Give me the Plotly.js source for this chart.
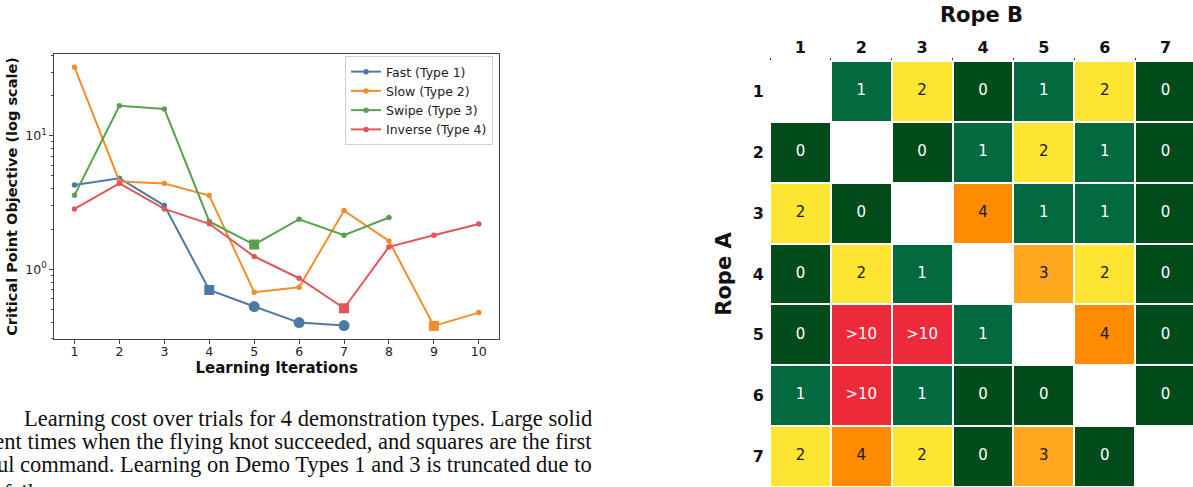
<!DOCTYPE html>
<html>
<head>
<meta charset="utf-8">
<script src="https://cdn.plot.ly/plotly-3.0.1.min.js"></script>
<style>html,body{margin:0;padding:0;background:#fff;}#chart{width:1193px;height:487px;}</style>
</head>
<body>
<div id="chart"></div>
<script>
// ---------- Line chart data ----------
const iterations = [1, 2, 3, 4, 5, 6, 7, 8, 9, 10];
const seriesNames = ["Fast (Type 1)", "Slow (Type 2)", "Swipe (Type 3)", "Inverse (Type 4)"];
const fastCost    = [4.27, 4.81, 3.0, 0.70, 0.525, 0.398, 0.378];
const slowCost    = [32.7, 4.55, 4.39, 3.57, 0.672, 0.733, 2.75, 1.63, 0.376, 0.473];
const swipeCost   = [3.59, 16.8, 15.9, 2.28, 1.53, 2.37, 1.80, 2.44];
const inverseCost = [2.83, 4.39, 2.83, 2.19, 1.245, 0.856, 0.51, 1.47, 1.80, 2.18];
// first successful command (squares) and successful flying knots (large circles)
const firstSuccessIter = [4, 9, 5, 7];
const knotSuccessIters = [[5, 6, 7], [], [], []];
const seriesColors = ["#4e79a7", "#f28e2b", "#59a14f", "#e15759"];

// ---------- Heatmap data ----------
const ropeIds = [1, 2, 3, 4, 5, 6, 7];
const ropeLabels = ["1", "2", "3", "4", "5", "6", "7"];
const failRow1 = ["", "1", "2", "0", "1", "2", "0"];
const failRow2 = ["0", "", "0", "1", "2", "1", "0"];
const failRow3 = ["2", "0", "", "4", "1", "1", "0"];
const failRow4 = ["0", "2", "1", "", "3", "2", "0"];
const failRow5 = ["0", ">10", ">10", "1", "", "4", "0"];
const failRow6 = ["1", ">10", "1", "0", "0", "", "0"];
const failRow7 = ["2", "4", "2", "0", "3", "0", ""];
const failLevels = ["0", "1", "2", "3", "4", ">10"];
const levelColors = ["#024c1c", "#02693e", "#fee531", "#fda81f", "#fe8b02", "#ed2a3a"];
const levelTextDark = [false, false, true, true, true, false];

const captionLines = [
  "Learning cost over trials for 4 demonstration types. Large solid",
  "circles represent times when the flying knot succeeded, and squares are the first",
  "successful command. Learning on Demo Types 1 and 3 is truncated due to",
  "catching failures."
];

// ---------- Build traces ----------
const W = 1193, H = 487;
const allCosts = [fastCost, slowCost, swipeCost, inverseCost];
const traces = [];
allCosts.forEach((c, k) => {
  traces.push({
    x: iterations.slice(0, c.length), y: c, name: seriesNames[k],
    type: "scatter", mode: "lines+markers",
    line: {color: seriesColors[k], width: 2},
    marker: {color: seriesColors[k], size: 5.5},
    xaxis: "x", yaxis: "y"
  });
});
allCosts.forEach((c, k) => {
  const it = firstSuccessIter[k];
  traces.push({
    x: [it], y: [c[iterations.indexOf(it)]], type: "scatter", mode: "markers",
    marker: {color: seriesColors[k], size: 10, symbol: "square"},
    showlegend: false, hoverinfo: "skip", xaxis: "x", yaxis: "y"
  });
  const its = knotSuccessIters[k];
  if (its.length) {
    traces.push({
      x: its, y: its.map(i => c[iterations.indexOf(i)]), type: "scatter", mode: "markers",
      marker: {color: seriesColors[k], size: 11, symbol: "circle"},
      showlegend: false, hoverinfo: "skip", xaxis: "x", yaxis: "y"
    });
  }
});

const failRows = [failRow1, failRow2, failRow3, failRow4, failRow5, failRow6, failRow7];
const z = failRows.map(r => r.map(v => v === "" ? null : failLevels.indexOf(v)));
const cs = [];
levelColors.forEach((c, k) => {
  cs.push([k / levelColors.length, c]);
  cs.push([(k + 1) / levelColors.length, c]);
});
traces.push({
  type: "heatmap", x: ropeIds, y: ropeIds, z: z,
  zmin: -0.5, zmax: levelColors.length - 0.5, colorscale: cs, showscale: false,
  xgap: 2, ygap: 2, hoverinfo: "skip", xaxis: "x2", yaxis: "y2"
});
const tx = [], ty = [], tt = [], tc = [];
failRows.forEach((r, i) => r.forEach((v, j) => {
  if (v === "") return;
  tx.push(ropeIds[j]); ty.push(ropeIds[i]); tt.push(v);
  tc.push(levelTextDark[failLevels.indexOf(v)] ? "#1a1a1a" : "#ffffff");
}));
traces.push({
  type: "scatter", mode: "text", x: tx, y: ty, text: tt,
  textfont: {family: "DejaVu Sans", size: 15, color: tc},
  textposition: "middle center", showlegend: false, hoverinfo: "skip",
  xaxis: "x2", yaxis: "y2"
});

// minor ticks for log axis
const minorVals = [];
[-1, 0, 1].forEach(d => { for (let m = 2; m <= 9; m++) minorVals.push(m * Math.pow(10, d)); });

const axisFont = {family: "DejaVu Sans", size: 12.5, color: "#222"};
const captionY = [418, 441, 464, 492];
const annotations = captionLines.map((t, i) => ({
  xref: "paper", yref: "paper",
  x: i < 3 ? 594 / W : -80 / W, xanchor: i < 3 ? "right" : "left",
  y: 1 - captionY[i] / H, yanchor: "middle",
  text: t, showarrow: false,
  font: {family: "Liberation Serif", size: 22.5, color: "#111"}
}));

const layout = {
  width: W, height: H, autosize: false,
  margin: {l: 0, r: 0, t: 0, b: 0, pad: 0},
  paper_bgcolor: "#fff", plot_bgcolor: "#fff",
  showlegend: true,
  legend: {
    x: 493 / W, xanchor: "right", y: 1 - 56 / H, yanchor: "top",
    bgcolor: "#fff", bordercolor: "#d0d0d0", borderwidth: 1,
    font: {family: "DejaVu Sans", size: 12.5, color: "#222"},
    tracegroupgap: 0
  },
  xaxis: {
    domain: [54.3 / W, 499 / W], range: [0.55, 10.45],
    tickmode: "array", tickvals: iterations, ticktext: iterations.map(String),
    ticks: "outside", ticklen: 3.5, tickcolor: "#444", ticklabelstandoff: -3,
    showline: true, linecolor: "#444", linewidth: 1, mirror: true,
    showgrid: false, zeroline: false, tickfont: axisFont,
    title: {text: "Learning Iterations", font: {family: "DejaVu Sans", size: 15, color: "#111", weight: "bold"}, standoff: 0},
    anchor: "y"
  },
  yaxis: {
    type: "log", domain: [1 - 339 / H, 1 - 54 / H], range: [-0.523, 1.613],
    tickmode: "array", tickvals: [1, 10], ticktext: ["10<sup>0</sup>", "10<sup>1</sup>"],
    ticks: "outside", ticklen: 4, tickcolor: "#444",
    minor: {tickmode: "array", tickvals: minorVals, ticks: "outside", ticklen: 2, tickcolor: "#444", showgrid: false},
    showline: true, linecolor: "#444", linewidth: 1, mirror: true,
    showgrid: false, zeroline: false, tickfont: axisFont,
    title: {text: "Critical Point Objective (log scale)", font: {family: "DejaVu Sans", size: 14.5, color: "#111", weight: "bold"}, standoff: 4},
    anchor: "x"
  },
  xaxis2: {
    domain: [770 / W, 1], range: [0.5, 0.5 + (W - 770) / ((1196 - 770) / 7)],
    side: "top", anchor: "y2",
    tickmode: "array", tickvals: ropeIds, ticktext: ropeLabels, ticks: "",
    ticklabelstandoff: 4,
    minor: {tickmode: "array", tickvals: ropeIds.map(v => v - 0.5), ticks: "outside", ticklen: 2, tickcolor: "#333"},
    tickfont: {family: "DejaVu Sans", size: 16, color: "#111", weight: "bold"},
    showline: false, showgrid: false, zeroline: false,
    title: {text: "Rope B", font: {family: "DejaVu Sans", size: 21, color: "#111", weight: "bold"}, standoff: 9}
  },
  yaxis2: {
    domain: [0, 1 - 61 / H], range: [7.5, 0.5], anchor: "x2",
    tickmode: "array", tickvals: ropeIds, ticktext: ropeLabels, ticks: "",
    ticklabelstandoff: 5,
    tickfont: {family: "DejaVu Sans", size: 16, color: "#111", weight: "bold"},
    showline: false, showgrid: false, zeroline: false,
    title: {text: "Rope A", font: {family: "DejaVu Sans", size: 21, color: "#111", weight: "bold"}, standoff: 15}
  },
  annotations: annotations
};

Plotly.newPlot("chart", traces, layout, {staticPlot: true, displayModeBar: false});
</script>
</body>
</html>
